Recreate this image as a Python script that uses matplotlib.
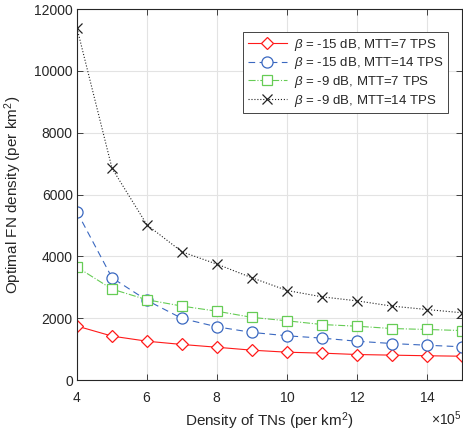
import matplotlib
matplotlib.use('Agg')
import matplotlib.pyplot as plt
from matplotlib.ticker import ScalarFormatter

plt.rcParams['font.family'] = ['Liberation Sans', 'DejaVu Sans']
plt.rcParams['mathtext.fontset'] = 'custom'
plt.rcParams['mathtext.rm'] = 'Liberation Sans'
plt.rcParams['mathtext.it'] = 'Liberation Sans:italic'

# Data (densities of TNs per km^2)
tn_density = [4e5, 5e5, 6e5, 7e5, 8e5, 9e5, 10e5, 11e5, 12e5, 13e5, 14e5, 15e5]
fn_b15_mtt7 = [1750, 1425, 1260, 1155, 1065, 970, 905, 875, 830, 810, 790, 775]
fn_b15_mtt14 = [5440, 3310, 2580, 1995, 1725, 1545, 1435, 1360, 1260, 1185, 1130, 1080]
fn_b9_mtt7 = [3655, 2945, 2600, 2395, 2230, 2030, 1920, 1800, 1745, 1670, 1640, 1605]
fn_b9_mtt14 = [11380, 6850, 5020, 4150, 3750, 3310, 2900, 2695, 2565, 2395, 2285, 2180]

labels = [r'$\beta$ = -15 dB, MTT=7 TPS',
          r'$\beta$ = -15 dB, MTT=14 TPS',
          r'$\beta$ = -9 dB, MTT=7 TPS',
          r'$\beta$ = -9 dB, MTT=14 TPS']

axcol = (0.15, 0.15, 0.15)


class FixedOrderFormatter(ScalarFormatter):
    """ScalarFormatter with the exponent pinned (x10^5 like MATLAB)."""

    def __init__(self, order, **kw):
        self.fixed_order = order
        super().__init__(**kw)

    def _set_order_of_magnitude(self):
        self.orderOfMagnitude = self.fixed_order


fig = plt.figure(figsize=(4.64, 4.34), dpi=100)
ax = fig.add_axes([0.166, 0.124, 0.830, 0.855])

ax.plot(tn_density, fn_b15_mtt7, '-', color='#FF1A1A', lw=0.8, marker='D',
        ms=6, mfc='white', mec='#FF1A1A', mew=0.9, label=labels[0])
ax.plot(tn_density, fn_b15_mtt14, '--', color='#3A68C0', lw=0.8, marker='o',
        ms=8, mfc='white', mec='#3A68C0', mew=0.9, dashes=(6, 4), label=labels[1])
ax.plot(tn_density, fn_b9_mtt7, '-.', color='#66CC55', lw=0.8, marker='s',
        ms=7, mfc='white', mec='#66CC55', mew=0.9, label=labels[2])
ax.plot(tn_density, fn_b9_mtt14, ':', color='#222222', lw=0.8, marker='x',
        ms=7, mec='#222222', mew=0.9, label=labels[3])

ax.set_xlim(4e5, 15e5)
ax.set_ylim(0, 12000)
ax.set_xticks([4e5, 6e5, 8e5, 10e5, 12e5, 14e5])
ax.set_yticks(range(0, 12001, 2000))

ax.xaxis.set_major_formatter(FixedOrderFormatter(5, useMathText=True))

ax.grid(True, color='#E3E3E3', lw=0.8)
ax.set_axisbelow(True)
ax.tick_params(direction='in', top=True, right=True, labelsize=10,
               colors=axcol, length=4, width=0.6)
ax.tick_params(axis='x', pad=8)
ax.tick_params(axis='y', pad=3)
for s in ax.spines.values():
    s.set_color(axcol)
    s.set_linewidth(0.8)

ax.set_xlabel(r'Density of TNs (per km$^2$)', fontsize=11, color=axcol, labelpad=4)
ax.set_ylabel(r'Optimal FN density (per km$^2$)', fontsize=11, color=axcol, labelpad=7)
off = ax.xaxis.get_offset_text()
off.set_color(axcol)
off.set_fontsize(10)

leg = ax.legend(loc='upper right', fontsize=9.5, frameon=True, fancybox=False,
                edgecolor=axcol, framealpha=1, borderpad=0.35, labelspacing=0.2,
                handlelength=3.0, handletextpad=0.5, borderaxespad=0,
                bbox_to_anchor=(0.964, 0.938))
leg.get_frame().set_linewidth(0.6)
for t in leg.get_texts():
    t.set_color(axcol)

fig.savefig('out.png', dpi=100)
